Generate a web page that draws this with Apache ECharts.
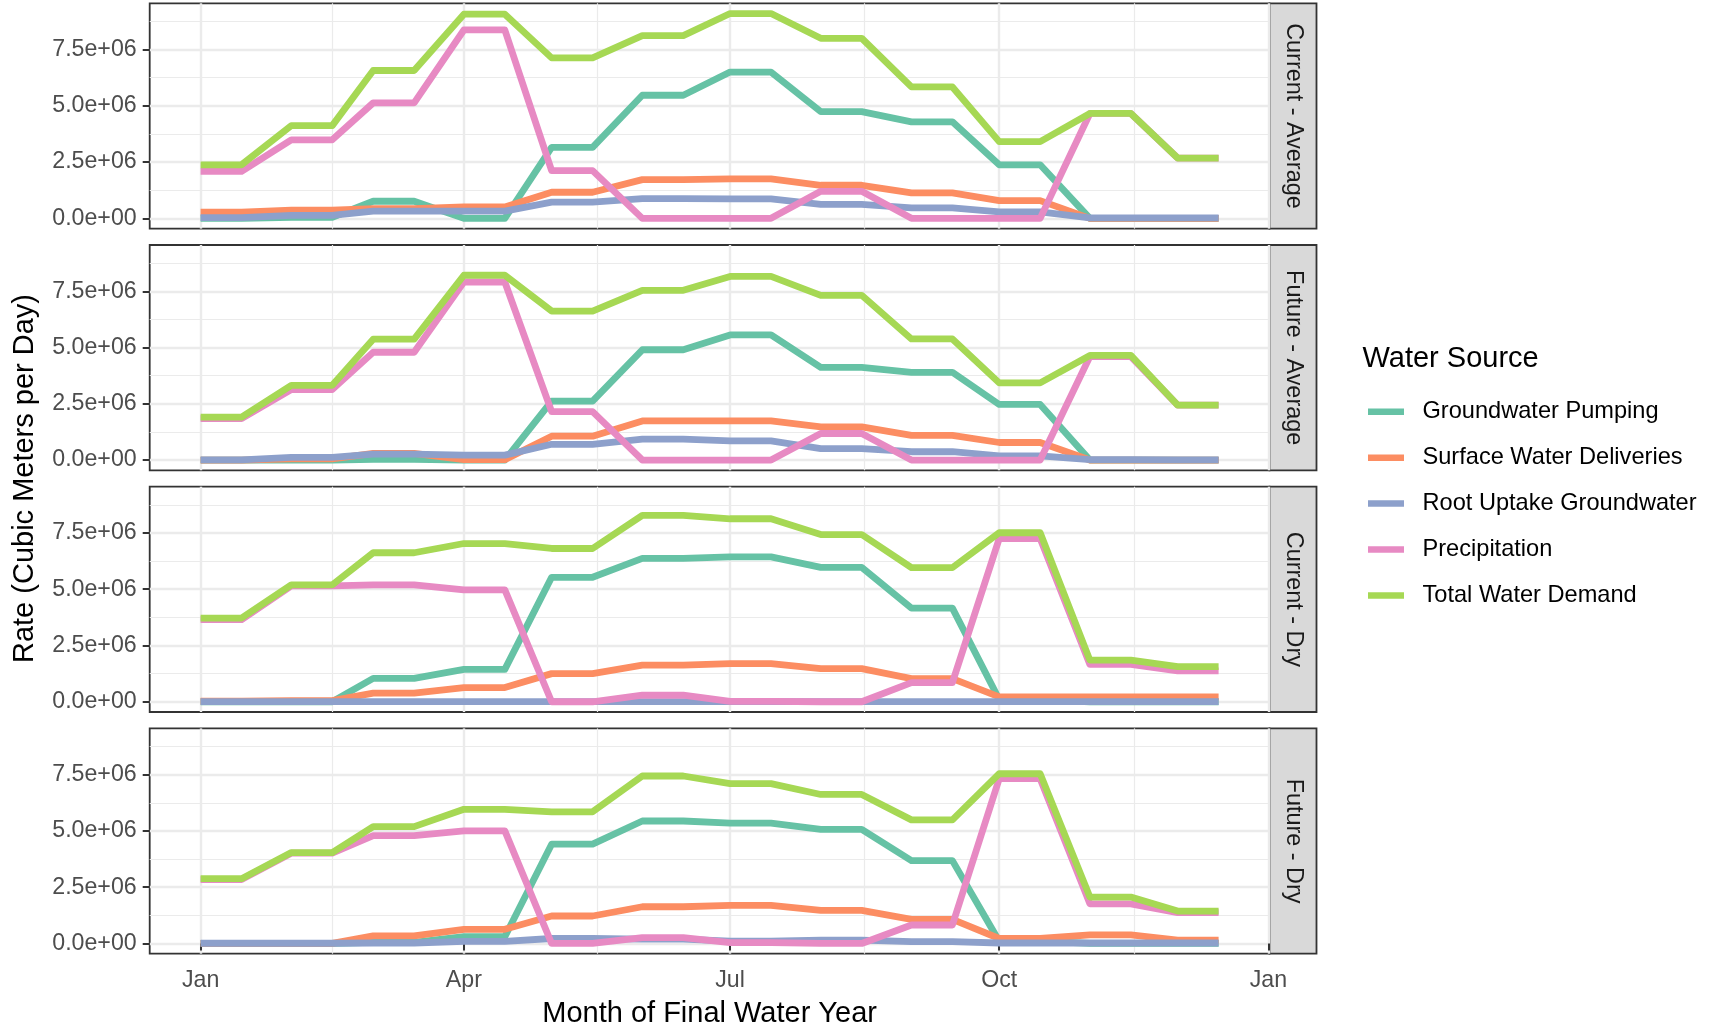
<!DOCTYPE html>
<html>
<head>
<meta charset="utf-8">
<title>Water Source Rates</title>
<script src="https://cdn.jsdelivr.net/npm/echarts@6/dist/echarts.min.js"></script>
<style>
  html, body { margin: 0; padding: 0; background: #ffffff; }
  #chart { width: 1713px; height: 1030px; }
</style>
</head>
<body>
<div id="chart"></div>
<script>
// ---- data -------------------------------------------------------------
const YEAR = 2021;
const sampleDays = [1, 15];            // each monthly rate is plotted on the 1st and the 15th
const panelNames = ['Current - Average', 'Future - Average', 'Current - Dry', 'Future - Dry'];
const sourceNames = ['Groundwater Pumping', 'Surface Water Deliveries', 'Root Uptake Groundwater', 'Precipitation', 'Total Water Demand'];
const sourceColors = ['#66C2A5', '#FC8D62', '#8DA0CB', '#E78AC3', '#A6D854'];

const yTickValues = [0, 2.5e6, 5.0e6, 7.5e6];
const xTickMonths = [0, 3, 6, 9, 12];
const xTickLabels = ['Jan', 'Apr', 'Jul', 'Oct', 'Jan'];

// Rates in cubic meters per day, Jan..Dec
const curAvgGroundwater = [0, 0.05e6, 0.76e6, 0, 3.15e6, 5.47e6, 6.50e6, 4.74e6, 4.29e6, 2.38e6, 0, 0];
const curAvgSurface     = [0.28e6, 0.37e6, 0.43e6, 0.51e6, 1.16e6, 1.72e6, 1.75e6, 1.47e6, 1.13e6, 0.79e6, 0, 0];
const curAvgRoot        = [0.03e6, 0.13e6, 0.32e6, 0.32e6, 0.72e6, 0.88e6, 0.87e6, 0.62e6, 0.47e6, 0.29e6, 0.02e6, 0.02e6];
const curAvgPrecip      = [2.09e6, 3.49e6, 5.13e6, 8.37e6, 2.12e6, 0, 0, 1.20e6, 0, 0, 4.66e6, 2.68e6];
const curAvgTotal       = [2.38e6, 4.12e6, 6.57e6, 9.07e6, 7.13e6, 8.12e6, 9.10e6, 8.00e6, 5.84e6, 3.41e6, 4.66e6, 2.68e6];

const futAvgGroundwater = [0, 0, 0.03e6, 0, 2.62e6, 4.90e6, 5.56e6, 4.12e6, 3.90e6, 2.47e6, 0, 0];
const futAvgSurface     = [0, 0.05e6, 0.30e6, 0.02e6, 1.06e6, 1.74e6, 1.74e6, 1.47e6, 1.10e6, 0.78e6, 0, 0];
const futAvgRoot        = [0.01e6, 0.12e6, 0.26e6, 0.22e6, 0.70e6, 0.93e6, 0.85e6, 0.51e6, 0.37e6, 0.19e6, 0.02e6, 0.01e6];
const futAvgPrecip      = [1.84e6, 3.13e6, 4.79e6, 7.91e6, 2.15e6, 0, 0, 1.18e6, 0, 0, 4.60e6, 2.44e6];
const futAvgTotal       = [1.91e6, 3.32e6, 5.37e6, 8.21e6, 6.62e6, 7.54e6, 8.16e6, 7.32e6, 5.38e6, 3.43e6, 4.65e6, 2.44e6];

const curDryGroundwater = [0, 0, 1.04e6, 1.44e6, 5.53e6, 6.37e6, 6.44e6, 5.97e6, 4.16e6, 0.10e6, 0, 0];
const curDrySurface     = [0.03e6, 0.05e6, 0.38e6, 0.63e6, 1.25e6, 1.63e6, 1.69e6, 1.47e6, 1.03e6, 0.22e6, 0.22e6, 0.22e6];
const curDryRoot        = [0.01e6, 0.01e6, 0.01e6, 0.01e6, 0.01e6, 0.01e6, 0.01e6, 0.01e6, 0.01e6, 0.01e6, 0.01e6, 0.01e6];
const curDryPrecip      = [3.65e6, 5.15e6, 5.19e6, 4.97e6, 0, 0.29e6, 0.02e6, 0, 0.85e6, 7.25e6, 1.66e6, 1.37e6];
const curDryTotal       = [3.72e6, 5.19e6, 6.62e6, 7.03e6, 6.81e6, 8.28e6, 8.13e6, 7.43e6, 5.96e6, 7.51e6, 1.85e6, 1.56e6];

const futDryGroundwater = [0, 0, 0.05e6, 0.30e6, 4.41e6, 5.44e6, 5.35e6, 5.07e6, 3.68e6, 0.10e6, 0, 0];
const futDrySurface     = [0, 0, 0.34e6, 0.63e6, 1.22e6, 1.63e6, 1.69e6, 1.47e6, 1.07e6, 0.22e6, 0.38e6, 0.15e6];
const futDryRoot        = [0.01e6, 0.01e6, 0.02e6, 0.09e6, 0.22e6, 0.19e6, 0.10e6, 0.15e6, 0.08e6, 0.02e6, 0.02e6, 0.02e6];
const futDryPrecip      = [2.84e6, 4.01e6, 4.79e6, 5.00e6, 0, 0.26e6, 0.04e6, 0, 0.82e6, 7.32e6, 1.76e6, 1.37e6];
const futDryTotal       = [2.88e6, 4.04e6, 5.19e6, 5.96e6, 5.85e6, 7.44e6, 7.10e6, 6.62e6, 5.49e6, 7.54e6, 2.06e6, 1.44e6];

const panelSeries = [
  [curAvgGroundwater, curAvgSurface, curAvgRoot, curAvgPrecip, curAvgTotal],
  [futAvgGroundwater, futAvgSurface, futAvgRoot, futAvgPrecip, futAvgTotal],
  [curDryGroundwater, curDrySurface, curDryRoot, curDryPrecip, curDryTotal],
  [futDryGroundwater, futDrySurface, futDryRoot, futDryPrecip, futDryTotal]
];

// ---- layout -----------------------------------------------------------
const FONT = "'Liberation Sans', Arial, Helvetica, sans-serif";
const PLOT_LEFT = 149.7;
const PLOT_WIDTH = 1119.8;
const PLOT_RIGHT = PLOT_LEFT + PLOT_WIDTH;
const PANEL_TOP = 3.3;
const PANEL_H = 225.3;
const PANEL_GAP = 16.4;
const STRIP_W = 47;
const panelTop = i => PANEL_TOP + i * (PANEL_H + PANEL_GAP);

// ---- scales -----------------------------------------------------------
const toPoints = values => values.flatMap((v, m) => sampleDays.map(d => [Date.UTC(YEAR, m, d), v]));

const firstX = Date.UTC(YEAR, 0, sampleDays[0]);
const lastX = Date.UTC(YEAR, 11, sampleDays[sampleDays.length - 1]);
const xPad = 0.05 * (lastX - firstX);
const xMin = firstX - xPad;
const xMax = lastX + xPad;
const xMajor = xTickMonths.map(m => Date.UTC(YEAR, m, 1));
const xMinor = xMajor.slice(1).map((v, i) => (v + xMajor[i]) / 2);

const allValues = panelSeries.flat(2);
const yHi = Math.max(...allValues);
const yLo = Math.min(0, ...allValues);
const yPad = 0.05 * (yHi - yLo);
const yMin = yLo - yPad;
const yMax = yHi + yPad;
const yStep = yTickValues[1] - yTickValues[0];
const yMinor = yTickValues.map(v => v + yStep / 2);

const sciLabel = v => Number(v).toExponential(1).replace(/e([+-])(\d)$/, (m, sg, d) => 'e' + sg + '0' + d);
const monthLabel = v => {
  let best = 0;
  xMajor.forEach((t, i) => { if (Math.abs(t - v) < Math.abs(xMajor[best] - v)) best = i; });
  return xTickLabels[best];
};

const majorGrid = { show: true, lineStyle: { color: '#EBEBEB', width: 2.4 } };
const minorGrid = { show: true, lineStyle: { color: '#EBEBEB', width: 1.2 } };
const tickStyle = { color: '#333333', width: 2 };
const labelStyle = { fontSize: 23.2, color: '#4D4D4D', fontFamily: FONT };

const grids = [], xAxes = [], yAxes = [], series = [];
panelNames.forEach((name, i) => {
  const isBottom = i === panelNames.length - 1;
  grids.push({
    left: PLOT_LEFT, top: panelTop(i), width: PLOT_WIDTH, height: PANEL_H,
    show: true, backgroundColor: '#ffffff', borderColor: '#333333', borderWidth: 1.8,
    containLabel: false, outerBoundsMode: 'none'
  });
  xAxes.push({
    type: 'value', gridIndex: i, position: 'bottom', min: xMin, max: xMax,
    axisLine: { show: false },
    axisTick: { show: isBottom, customValues: xMajor, length: 7, lineStyle: tickStyle },
    axisLabel: Object.assign({ show: isBottom, customValues: xMajor, formatter: monthLabel, margin: 15 }, labelStyle),
    splitLine: majorGrid
  });
  xAxes.push({
    type: 'value', gridIndex: i, position: 'top', min: xMin, max: xMax,
    axisLine: { show: false },
    axisTick: { show: false, customValues: xMinor },
    axisLabel: { show: false, customValues: xMinor },
    splitLine: minorGrid
  });
  yAxes.push({
    type: 'value', gridIndex: i, position: 'left', min: yMin, max: yMax,
    axisLine: { show: false },
    axisTick: { show: true, customValues: yTickValues, length: 7, lineStyle: tickStyle },
    axisLabel: Object.assign({ customValues: yTickValues, formatter: sciLabel, margin: 13 }, labelStyle),
    splitLine: majorGrid
  });
  yAxes.push({
    type: 'value', gridIndex: i, position: 'right', min: yMin, max: yMax,
    axisLine: { show: false },
    axisTick: { show: false, customValues: yMinor },
    axisLabel: { show: false, customValues: yMinor },
    splitLine: minorGrid
  });
  panelSeries[i].forEach((values, s) => {
    series.push({
      type: 'line', name: sourceNames[s],
      xAxisIndex: 2 * i, yAxisIndex: 2 * i,
      data: toPoints(values),
      showSymbol: false, symbol: 'none', silent: true,
      lineStyle: { color: sourceColors[s], width: 6.8, cap: 'butt', join: 'round' },
      itemStyle: { color: sourceColors[s] },
      emphasis: { disabled: true },
      z: 2
    });
  });
});

// facet strips on the right side of each panel
const strips = panelNames.flatMap((name, i) => [
  {
    type: 'rect', silent: true,
    shape: { x: PLOT_RIGHT, y: panelTop(i), width: STRIP_W, height: PANEL_H },
    style: { fill: '#D9D9D9', stroke: '#333333', lineWidth: 1.8 }
  },
  {
    type: 'text', silent: true,
    x: PLOT_RIGHT + STRIP_W / 2, y: panelTop(i) + PANEL_H / 2, rotation: -Math.PI / 2,
    style: { text: name, fontSize: 23.4, fill: '#1A1A1A', fontFamily: FONT, align: 'center', verticalAlign: 'middle' }
  }
]);

const plotBottom = panelTop(panelNames.length - 1) + PANEL_H;

const option = {
  animation: false,
  backgroundColor: '#ffffff',
  grid: grids,
  xAxis: xAxes,
  yAxis: yAxes,
  series: series,
  legend: {
    data: sourceNames,
    orient: 'vertical',
    left: 1368, top: 397.8,
    padding: 0,
    icon: 'rect',
    itemWidth: 36, itemHeight: 6.5, itemGap: 17.9,
    selectedMode: false,
    textStyle: { fontSize: 23.6, color: '#000000', fontFamily: FONT, lineHeight: 28, padding: [0, 0, 0, 13.5] }
  },
  graphic: strips.concat([
    {
      type: 'text', silent: true,
      x: 25, y: (PANEL_TOP + plotBottom) / 2, rotation: Math.PI / 2,
      style: { text: 'Rate (Cubic Meters per Day)', fontSize: 29, fill: '#000000', fontFamily: FONT, align: 'center', verticalAlign: 'middle' }
    },
    {
      type: 'text', silent: true,
      x: PLOT_LEFT + PLOT_WIDTH / 2, y: 1013.8,
      style: { text: 'Month of Final Water Year', fontSize: 29, fill: '#000000', fontFamily: FONT, align: 'center', verticalAlign: 'middle' }
    },
    {
      type: 'text', silent: true,
      x: 1362.5, y: 359.4,
      style: { text: 'Water Source', fontSize: 29, fill: '#000000', fontFamily: FONT, align: 'left', verticalAlign: 'middle' }
    }
  ])
};

const chart = echarts.init(document.getElementById('chart'), null, { renderer: 'canvas' });
chart.setOption(option);
</script>
</body>
</html>
